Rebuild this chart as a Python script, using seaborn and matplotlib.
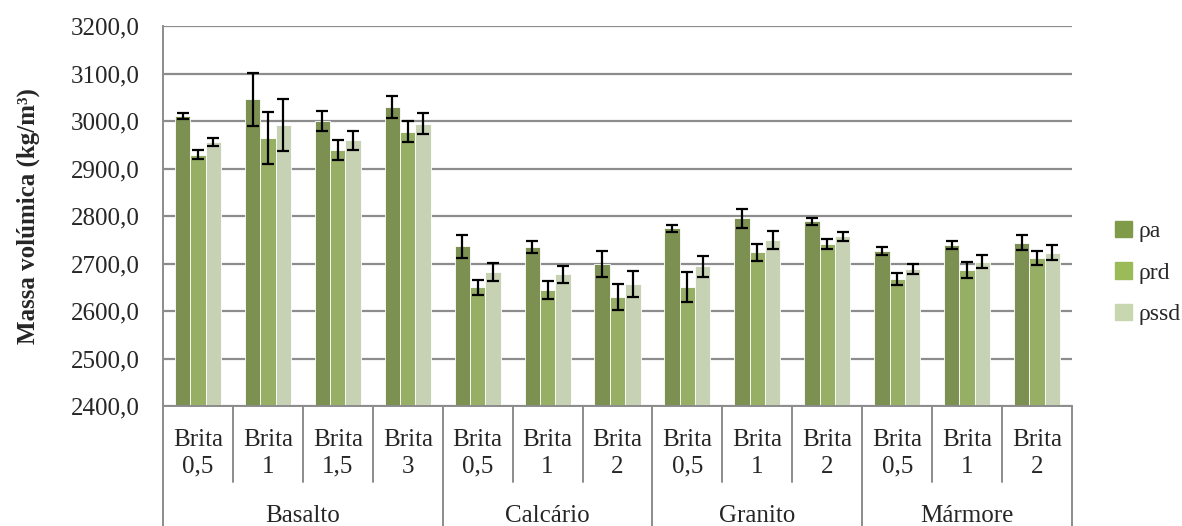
import matplotlib
matplotlib.use("Agg")
import matplotlib.pyplot as plt
import matplotlib.patches as mpatches
import numpy as np
import pandas as pd
import seaborn as sns

# valores
rochas = ["Basalto"] * 4 + ["Calcário"] * 3 + ["Granito"] * 3 + ["Mármore"] * 3
britas = ["Brita\n0,5", "Brita\n1", "Brita\n1,5", "Brita\n3",
          "Brita\n0,5", "Brita\n1", "Brita\n2",
          "Brita\n0,5", "Brita\n1", "Brita\n2",
          "Brita\n0,5", "Brita\n1", "Brita\n2"]
grupos = ["Basalto", "Calcário", "Granito", "Mármore"]
series = ["ρa", "ρrd", "ρssd"]

rho_a = [3010, 3046, 3000, 3030, 2736, 2735, 2699, 2774, 2795, 2789, 2726, 2739, 2744]
rho_rd = [2929, 2964, 2939, 2977, 2650, 2644, 2630, 2651, 2724, 2741, 2667, 2686, 2711]
rho_ssd = [2956, 2991, 2959, 2994, 2682, 2677, 2657, 2694, 2749, 2757, 2688, 2704, 2723]
err_a = [6, 56, 21, 23, 25, 13, 28, 7, 20, 7, 9, 9, 16]
err_rd = [10, 55, 21, 22, 16, 19, 27, 32, 18, 11, 13, 17, 15]
err_ssd = [8, 55, 21, 22, 19, 17, 27, 22, 19, 10, 11, 14, 15]

cores = ["#7F9A48", "#9BBB59", "#C8D7AF"]

sns.set_style("white")
plt.rcParams["font.family"] = ["Liberation Serif", "DejaVu Serif"]

chaves = [f"{r}|{b}|{i}" for i, (r, b) in enumerate(zip(rochas, britas))]
valores = {"ρa": rho_a, "ρrd": rho_rd, "ρssd": rho_ssd}
erros = {"ρa": err_a, "ρrd": err_rd, "ρssd": err_ssd}
linhas = []
for s in series:
    for k, v, e in zip(chaves, valores[s], erros[s]):
        linhas.append({"amostra": k, "serie": s, "valor": v, "erro": e})
df = pd.DataFrame(linhas)

fig = plt.figure(figsize=(11.82, 5.26), dpi=100)
ax = fig.add_axes([163 / 1182, 1 - 406 / 526, (1072 - 163) / 1182, 380 / 526])

sns.barplot(data=df, x="amostra", y="valor", hue="serie", order=chaves,
            hue_order=series, palette=cores, errorbar=None, width=0.66,
            edgecolor="white", linewidth=0.6, legend=False, ax=ax)

for cont, s in zip(ax.containers, series):
    xs = [b.get_x() + b.get_width() / 2 for b in cont]
    ax.errorbar(xs, valores[s], yerr=erros[s], fmt="none", ecolor="black",
                elinewidth=1.6, capsize=4, capthick=1.6, zorder=5)

ax.set_ylim(2400, 3200)
ax.set_xlim(-0.5, len(chaves) - 0.5)
ax.set_yticks(np.arange(2400, 3201, 100))
ax.set_yticklabels([f"{v:.1f}".replace(".", ",") for v in np.arange(2400, 3201, 100)],
                   fontsize=18)
ax.yaxis.grid(True, color="#8C8C8C", linewidth=1.6)
ax.set_axisbelow(True)
ax.tick_params(axis="y", direction="out", length=7, color="#8C8C8C", width=1.2, pad=10)
ax.tick_params(axis="x", bottom=False, labelbottom=False)
ax.set_xlabel("")
ax.set_ylabel("Massa volúmica (kg/m³)", fontsize=18, fontweight="bold", labelpad=22)
for lado in ["top", "right"]:
    ax.spines[lado].set_visible(False)
for lado in ["left", "bottom"]:
    ax.spines[lado].set_color("#8C8C8C")
    ax.spines[lado].set_linewidth(1.4)

trans = ax.get_xaxis_transform()
for i, b in enumerate(britas):
    ax.text(i, -0.124, b, transform=trans, ha="center", va="center",
            fontsize=18, linespacing=1.3)

# separadores da tabela de categorias
inicio = 0
limites = [0]
for g in grupos:
    n = rochas.count(g)
    ax.text(inicio + (n - 1) / 2, -0.29, g, transform=trans, ha="center",
            va="center", fontsize=18)
    inicio += n
    limites.append(inicio)
for i in range(len(chaves) + 1):
    fim = -0.32 if i in limites else -0.2
    ax.plot([i - 0.5, i - 0.5], [0, fim], transform=trans, color="#8C8C8C",
            linewidth=1.4, clip_on=False)

alcas = [mpatches.Patch(color=c, label=s) for c, s in zip(cores, series)]
ax.legend(handles=alcas, loc="center left", bbox_to_anchor=(1.032, 0.35),
          frameon=False, fontsize=17, handlelength=0.7, handleheight=0.7,
          handletextpad=0.3, labelspacing=0.85, borderaxespad=0.2)

fig.savefig("out.png", dpi=100)
